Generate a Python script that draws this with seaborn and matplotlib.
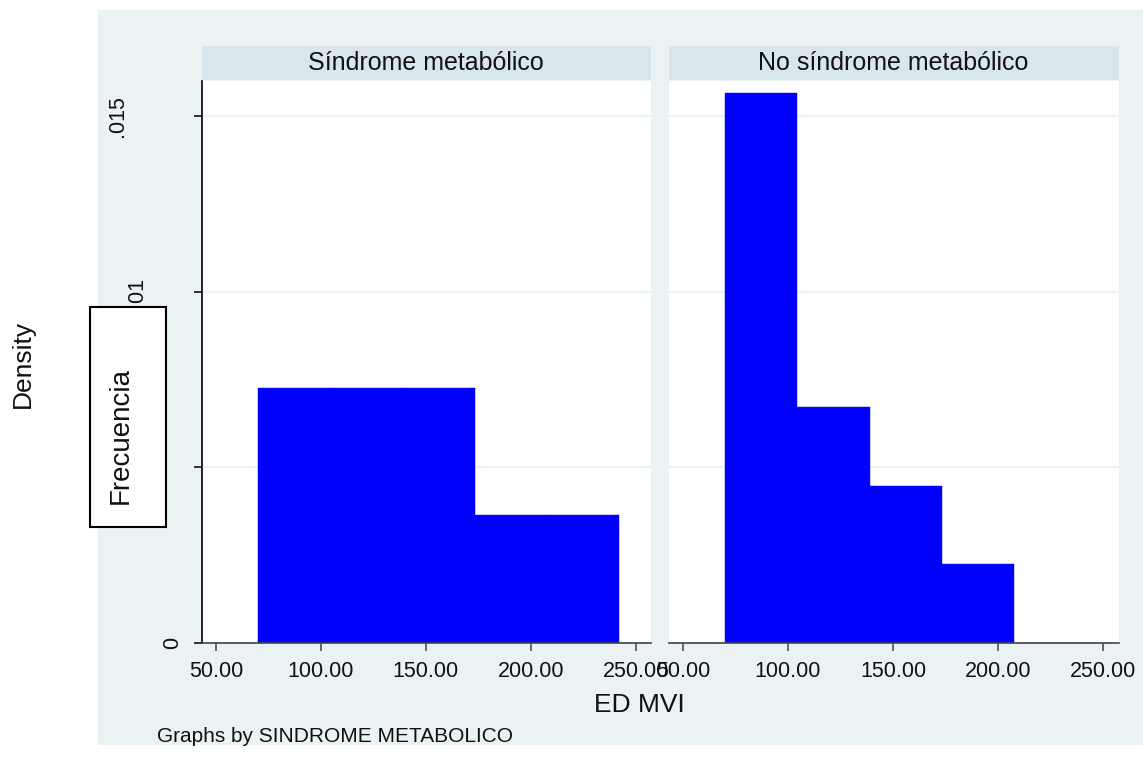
import matplotlib
matplotlib.use("Agg")
import matplotlib.pyplot as plt
from matplotlib.patches import Rectangle
from matplotlib.transforms import ScaledTranslation
import seaborn as sns
import numpy as np

# ---- data ----
bin_edges = [70.0, 104.4, 138.8, 173.2, 207.6, 242.0]
counts_sm = [2, 2, 2, 1, 1]          # Síndrome metabólico
counts_nosm = [7, 3, 2, 1]           # No síndrome metabólico
panel_titles = ["Síndrome metabólico", "No síndrome metabólico"]
x_ticks = [50, 100, 150, 200, 250]
x_tick_labels = ["50.00", "100.00", "150.00", "200.00", "250.00"]
y_ticks = [0, 0.005, 0.01, 0.015]
y_tick_labels = ["0", "", ".01", ".015"]

sns.set_style("white")
plt.rcParams["font.family"] = ["Liberation Sans", "DejaVu Sans"]

W, H = 1143, 773
fig = plt.figure(figsize=(W / 100, H / 100), dpi=100)
fig.patch.set_facecolor("white")

def fx(x):
    return x / W

def fy(y):
    return 1 - y / H

BG = "#eaf2f3"
STRIP = "#d9e6eb"
BLUE = "#0000ff"

# graph region background
fig.patches.append(Rectangle((fx(98), fy(745)), fx(1143) - fx(98), fy(10) - fy(745),
                             transform=fig.transFigure, facecolor=BG, edgecolor="none", zorder=-5))

ax_top, ax_bot = 80.7, 643
panels = [(201.5, 651.0), (668.5, 1118.5)]
xlim = (43.1, 257.3)
ylim = (0, 0.0160)

axes = []
for i, (x0, x1) in enumerate(panels):
    ax = fig.add_axes([fx(x0), fy(ax_bot), fx(x1) - fx(x0), fy(ax_top) - fy(ax_bot)])
    ax.set_facecolor("white")
    axes.append(ax)
    # strip
    fig.patches.append(Rectangle((fx(x0), fy(80)), fx(x1) - fx(x0), fy(46) - fy(80),
                                 transform=fig.transFigure, facecolor=STRIP, edgecolor="none", zorder=-4))
    fig.text(fx((x0 + x1) / 2), fy(63), panel_titles[i], ha="center", va="center",
             fontsize=18, color="#111111")

counts_list = [counts_sm, counts_nosm]
for ax, counts in zip(axes, counts_list):
    edges = bin_edges[:len(counts) + 1]
    centers = [(edges[k] + edges[k + 1]) / 2 for k in range(len(counts))]
    sns.histplot(x=centers, weights=counts, bins=edges, stat="density", ax=ax,
                 color=BLUE, alpha=1, edgecolor=BLUE, linewidth=0.3)
    ax.set_xlim(*xlim)
    ax.set_ylim(*ylim)
    ax.set_xlabel("")
    ax.set_ylabel("")
    ax.set_axisbelow(True)
    ax.set_yticks(y_ticks)
    ax.yaxis.grid(True, color=BG, linewidth=1.6)
    ax.xaxis.grid(False)
    ax.set_xticks(x_ticks)
    ax.set_xticklabels(x_tick_labels, fontsize=15.5, color="#111111")
    ax.tick_params(axis="x", length=6, width=1.1, color="#444444", pad=7, direction="out", bottom=True)
    for s in ["top", "right"]:
        ax.spines[s].set_visible(False)
    ax.spines["bottom"].set_color("#444444")
    ax.spines["bottom"].set_linewidth(1.2)

# left panel y axis
axL, axR = axes
axL.spines["left"].set_color("black")
axL.spines["left"].set_linewidth(1.2)
axL.set_yticklabels(y_tick_labels, fontsize=15.5, rotation=90, va="center", color="#111111")
axL.tick_params(axis="y", length=6, width=1.1, color="black", pad=7, direction="out", left=True)
offsets_px = [0, -20, -36, -55]
for lbl, dx in zip(axL.get_yticklabels(), offsets_px):
    lbl.set_transform(lbl.get_transform() + ScaledTranslation(dx / 100, 0, fig.dpi_scale_trans))

axR.spines["left"].set_visible(False)
axR.tick_params(axis="y", left=False, labelleft=False)

# axis titles and notes
fig.text(fx(639), fy(705), "ED MVI", ha="center", va="center", fontsize=19, color="#111111")
fig.text(fx(157), fy(736), "Graphs by SINDROME METABOLICO", ha="left", va="center",
         fontsize=15, color="#111111")
fig.text(fx(23), fy(364), "Density", ha="center", va="center", rotation=90, fontsize=19, color="#111111")

# overlay box
fig.patches.append(Rectangle((fx(90), fy(527)), fx(165.7) - fx(90), fy(307) - fy(527),
                             transform=fig.transFigure, facecolor="white", edgecolor="black",
                             linewidth=1.5, zorder=10))
fig.text(fx(121), fy(436), "Frecuencia", ha="center", va="center", rotation=90,
         fontsize=20, color="#111111", zorder=11)

fig.savefig("out.png", dpi=100)
